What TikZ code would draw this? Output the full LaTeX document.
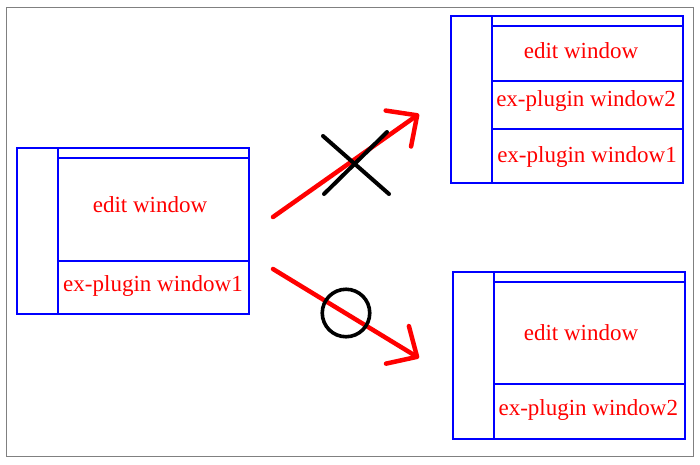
\documentclass[tikz,border=0pt]{standalone}
\usepackage{fontspec}
\setmainfont{Liberation Serif}
\usetikzlibrary{arrows.meta}
\begin{document}
\begin{tikzpicture}[x=1pt,y=-1pt,
  win/.style={draw=blue,line width=2.3pt,inner sep=0pt,outer sep=0pt,anchor=north west,minimum width=232pt},
  divline/.style={draw=blue,line width=2.3pt},
  lbl/.style={text=red,anchor=base,inner sep=0pt,font=\fontsize{23}{28}\selectfont},
  redarrow/.style={draw=red,line width=4.5pt,line cap=round,-{Straight Barb[length=23pt,width=44pt,round]}},
  blk/.style={draw=black,line width=4pt,line cap=round},
  okmark/.style={circle,draw=black,line width=3.6pt,minimum size=47.5pt,inner sep=0pt,outer sep=0pt}]
\useasboundingbox (0,0) rectangle (700,464);
\draw[gray,line width=1pt] (6.5,7.5) rectangle (693.5,456.5);
% left box
\node[win,minimum height=166pt] (L) at (17,148) {};
\draw[divline] (58,148) -- (58,314);
\draw[divline] (58,158) -- (249,158);
\draw[divline] (58,261) -- (249,261);
\node[lbl] (Ledit) at (150,212) {edit window};
\node[lbl] (Lplug1) at (153,291) {ex-plugin window1};
% top right box
\node[win,minimum height=167pt] (TR) at (451,16) {};
\draw[divline] (492,16) -- (492,183);
\draw[divline] (492,26) -- (683,26);
\draw[divline] (492,81) -- (683,81);
\draw[divline] (492,129) -- (683,129);
\node[lbl] (TRedit) at (581,58.3) {edit window};
\node[lbl] (TRplug2) at (586,106.7) {ex-plugin window2};
\node[lbl] (TRplug1) at (587,162.7) {ex-plugin window1};
% bottom right box
\node[win,minimum height=167pt] (BR) at (453,272) {};
\draw[divline] (494,272) -- (494,439);
\draw[divline] (494,282) -- (685,282);
\draw[divline] (494,384) -- (685,384);
\node[lbl] (BRedit) at (581,340) {edit window};
\node[lbl] (BRplug2) at (588.3,415) {ex-plugin window2};
% arrows
\coordinate (a1s) at (273,217);
\coordinate (a1e) at (419,114);
\coordinate (a2s) at (273,269);
\coordinate (a2e) at (419,358);
\draw[redarrow] (a1s) -- (a1e);
\draw[redarrow] (a2s) -- (a2e);
% cross
\coordinate (x1a) at (323,136);
\coordinate (x1b) at (389,194);
\coordinate (x2a) at (387,132);
\coordinate (x2b) at (324,194);
\draw[blk] (x1a) -- (x1b);
\draw[blk] (x2a) -- (x2b);
% circle
\node[okmark] (ok) at (346,313) {};
\end{tikzpicture}
\end{document}
